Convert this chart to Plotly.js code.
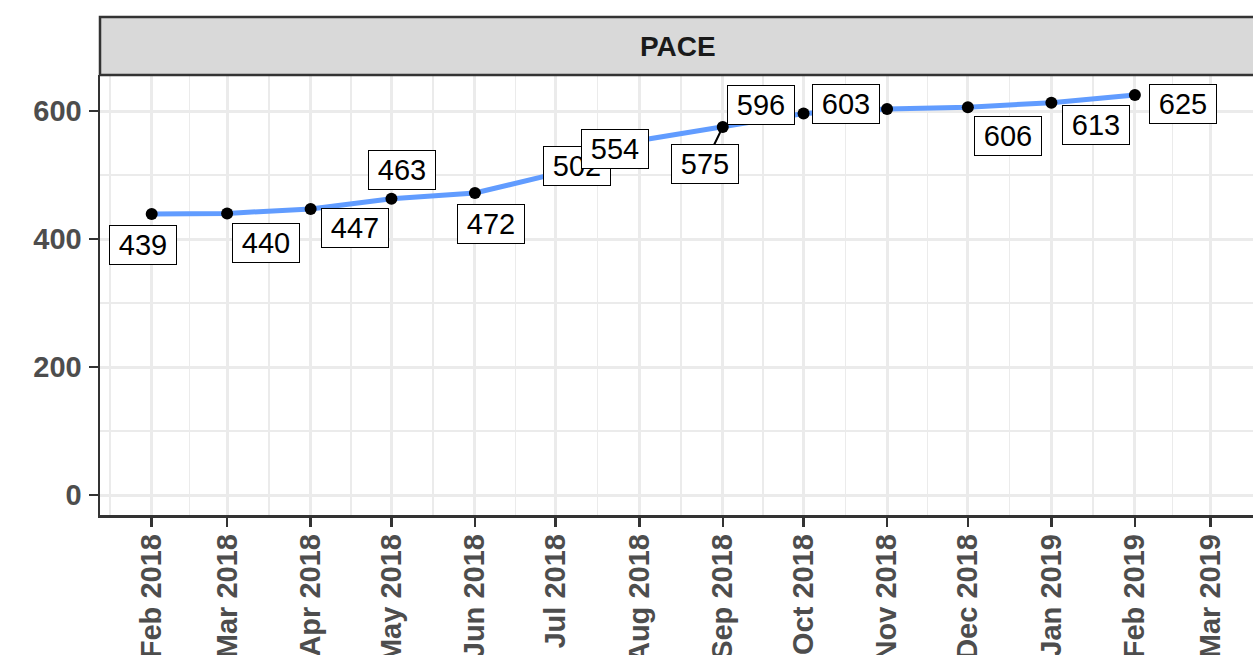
<!DOCTYPE html>
<html>
<head>
<meta charset="utf-8">
<script src="https://cdn.plot.ly/plotly-3.0.1.min.js"></script>
<style>
html,body{margin:0;padding:0;background:#fff;}
#chart{width:1253px;height:655px;}
</style>
</head>
<body>
<div id="chart"></div>
<script>
// ---- data ----
const months = ['2018-02-01','2018-03-01','2018-04-01','2018-05-01','2018-06-01','2018-07-01',
  '2018-08-01','2018-09-01','2018-10-01','2018-11-01','2018-12-01','2019-01-01','2019-02-01'];
const pace = [439,440,447,463,472,502,554,575,596,603,606,613,625];
const panelTitle = 'PACE';
const yTicks = [0,200,400,600];
const xTickMonths = ['2018-01-01','2018-02-01','2018-03-01','2018-04-01','2018-05-01','2018-06-01',
  '2018-07-01','2018-08-01','2018-09-01','2018-10-01','2018-11-01','2018-12-01','2019-01-01',
  '2019-02-01','2019-03-01','2019-04-01'];

// label placement (screen px: dx right, dy down), emulating ggrepel
const labelNudge = [[-9,31],[39,30],[44,19],[11,-29],[16,31],[21,-8],[-24,9],[-18,37],
  [-43,-9],[-41,-5],[40,29],[45,22],[48,9]];
const labelSegment = [false,false,false,false,false,false,false,true,false,false,false,false,false];

const FONT = '"Liberation Sans", Arial, Helvetica, sans-serif';

// minor grid: midpoints between month breaks
const minorVals = [];
for (let i = 0; i < xTickMonths.length - 1; i++) {
  const a = new Date(xTickMonths[i] + 'T00:00:00Z').getTime();
  const b = new Date(xTickMonths[i+1] + 'T00:00:00Z').getTime();
  const m = new Date((a + b) / 2);
  minorVals.push(m.toISOString().replace('T',' ').slice(0,19));
}

const trace = {
  x: months, y: pace, type: 'scatter', mode: 'lines+markers',
  line: {color: '#619CFF', width: 5},
  marker: {color: '#000000', size: 12},
  hoverinfo: 'skip', showlegend: false
};

const annotations = pace.map((v, i) => {
  const [dx, dy] = labelNudge[i];
  const base = {
    x: months[i], y: v, xref: 'x', yref: 'y',
    text: String(v),
    font: {family: FONT, size: 29, color: '#000000'},
    bgcolor: '#FFFFFF', bordercolor: '#000000', borderwidth: 1, borderpad: 3,
    width: 60, height: 32, align: 'center', valign: 'middle',
    xanchor: 'center', yanchor: 'middle'
  };
  if (labelSegment[i]) {
    return Object.assign(base, {showarrow: true, arrowhead: 0, arrowwidth: 2,
      arrowcolor: '#000000', ax: dx, ay: dy, standoff: 0, startstandoff: 0});
  }
  return Object.assign(base, {showarrow: false, xshift: dx, yshift: -dy});
});

annotations.push({
  xref: 'paper', yref: 'paper', x: 0.5013, y: 1.0659,
  text: '<b>' + panelTitle + '</b>', showarrow: false,
  font: {family: FONT, size: 28, color: '#1A1A1A'},
  xanchor: 'center', yanchor: 'middle'
});

const layout = {
  width: 1253, height: 655,
  margin: {l: 100, r: 0, t: 75, b: 140, pad: 0},
  paper_bgcolor: '#FFFFFF', plot_bgcolor: '#FFFFFF',
  font: {family: FONT},
  xaxis: {
    type: 'date',
    range: ['2018-01-12 19:26', '2019-03-16 20:24'],
    tickmode: 'array', tickvals: xTickMonths,
    tickformat: '%b %Y', tickangle: -90,
    tickfont: {family: FONT, size: 29, color: '#4D4D4D', weight: 'bold'},
    ticks: 'outside', ticklen: 9, tickwidth: 2.5, tickcolor: '#333333',
    showgrid: true, gridcolor: '#EBEBEB', gridwidth: 3,
    minor: {tickmode: 'array', tickvals: minorVals, showgrid: true, gridcolor: '#EBEBEB', gridwidth: 1.5, ticks: ''},
    showline: true, linecolor: '#333333', linewidth: 2.5, mirror: false,
    zeroline: false, ticklabelstandoff: -4, fixedrange: true
  },
  yaxis: {
    range: [-31.25, 656.25],
    tickmode: 'array', tickvals: yTicks,
    tickfont: {family: FONT, size: 29, color: '#4D4D4D', weight: 'bold'},
    ticks: 'outside', ticklen: 9, tickwidth: 2.5, tickcolor: '#333333',
    showgrid: true, gridcolor: '#EBEBEB', gridwidth: 3,
    minor: {tickmode: 'array', tickvals: [100,300,500], showgrid: true, gridcolor: '#EBEBEB', gridwidth: 1.5, ticks: ''},
    showline: true, linecolor: '#333333', linewidth: 2.5, mirror: false,
    zeroline: false, ticklabelstandoff: 1, fixedrange: true
  },
  shapes: [{
    type: 'rect', xref: 'paper', yref: 'paper',
    x0: 0, x1: 1.01, y0: 1, y1: 1.1318,
    fillcolor: '#D9D9D9', line: {color: '#333333', width: 2.5}, layer: 'above'
  }],
  annotations: annotations
};

Plotly.newPlot('chart', [trace], layout, {displayModeBar: false, staticPlot: true});
</script>
</body>
</html>
